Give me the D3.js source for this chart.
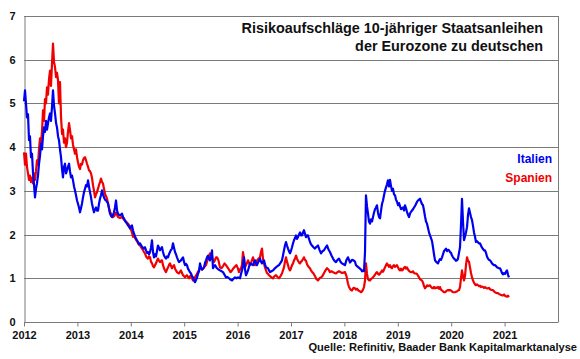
<!DOCTYPE html>
<html><head><meta charset="utf-8">
<script src="https://cdn.jsdelivr.net/npm/d3@7"></script>
<style>body{margin:0;background:#fff}svg{display:block}text{font-family:"Liberation Sans",Arial,sans-serif;font-weight:bold}</style>
</head><body><svg id="c" width="580" height="359"></svg>
<script>
const yTicks=[0,1,2,3,4,5,6,7];
const xTicks=[2012,2013,2014,2015,2016,2017,2018,2019,2020,2021];
const titleLines=["Risikoaufschläge 10-jähriger Staatsanleihen","der Eurozone zu deutschen"];
const seriesNames=["Italien","Spanien"];
const sourceText="Quelle: Refinitiv, Baader Bank Kapitalmarktanalyse";

const italien=[[2012.000,5.05],[2012.019,5.30],[2012.037,5.00],[2012.056,4.68],[2012.075,4.75],[2012.094,4.16],[2012.112,4.25],[2012.131,3.77],[2012.150,3.85],[2012.169,3.40],[2012.187,3.15],[2012.206,2.85],[2012.225,3.05],[2012.243,3.17],[2012.262,3.35],[2012.281,3.62],[2012.300,3.80],[2012.318,4.08],[2012.337,3.95],[2012.356,4.25],[2012.375,4.45],[2012.393,4.35],[2012.412,4.60],[2012.431,4.40],[2012.449,4.54],[2012.468,4.68],[2012.487,4.77],[2012.505,4.60],[2012.524,4.91],[2012.543,5.30],[2012.562,4.95],[2012.581,4.77],[2012.600,4.55],[2012.618,4.45],[2012.637,4.25],[2012.655,4.16],[2012.674,3.95],[2012.693,3.77],[2012.712,3.50],[2012.730,3.31],[2012.749,3.55],[2012.768,3.62],[2012.787,3.40],[2012.805,3.47],[2012.824,3.55],[2012.843,3.62],[2012.861,3.45],[2012.880,3.31],[2012.899,3.35],[2012.918,3.24],[2012.937,3.10],[2012.955,3.01],[2012.974,2.90],[2012.993,2.78],[2013.012,2.70],[2013.030,2.62],[2013.049,2.51],[2013.067,2.60],[2013.086,2.71],[2013.105,2.85],[2013.124,2.97],[2013.142,3.05],[2013.161,3.13],[2013.180,3.10],[2013.199,3.24],[2013.217,3.10],[2013.236,2.97],[2013.255,2.85],[2013.273,2.71],[2013.292,2.60],[2013.311,2.51],[2013.330,2.58],[2013.348,2.62],[2013.367,2.55],[2013.386,2.55],[2013.404,2.70],[2013.423,2.82],[2013.442,2.90],[2013.461,3.01],[2013.479,2.92],[2013.498,2.85],[2013.517,2.80],[2013.536,2.78],[2013.554,2.75],[2013.573,2.71],[2013.592,2.60],[2013.610,2.48],[2013.629,2.43],[2013.648,2.40],[2013.667,2.45],[2013.685,2.51],[2013.704,2.62],[2013.723,2.78],[2013.742,2.55],[2013.760,2.48],[2013.779,2.45],[2013.798,2.44],[2013.817,2.46],[2013.835,2.48],[2013.854,2.40],[2013.873,2.37],[2013.891,2.32],[2013.910,2.28],[2013.929,2.25],[2013.948,2.21],[2013.966,2.18],[2013.985,2.14],[2014.004,2.18],[2014.022,2.21],[2014.041,2.10],[2014.060,2.02],[2014.079,1.96],[2014.097,1.91],[2014.116,1.87],[2014.135,1.83],[2014.154,1.78],[2014.172,1.80],[2014.210,1.72],[2014.247,1.68],[2014.266,1.71],[2014.285,1.64],[2014.304,1.58],[2014.322,1.60],[2014.341,1.55],[2014.360,1.60],[2014.378,1.70],[2014.397,1.87],[2014.416,1.60],[2014.434,1.48],[2014.453,1.55],[2014.472,1.50],[2014.490,1.62],[2014.509,1.75],[2014.528,1.70],[2014.547,1.64],[2014.566,1.68],[2014.584,1.71],[2014.603,1.60],[2014.622,1.52],[2014.640,1.48],[2014.659,1.45],[2014.678,1.50],[2014.697,1.48],[2014.715,1.55],[2014.734,1.60],[2014.753,1.65],[2014.772,1.68],[2014.790,1.80],[2014.809,1.70],[2014.828,1.60],[2014.846,1.55],[2014.865,1.48],[2014.884,1.42],[2014.903,1.37],[2014.921,1.39],[2014.940,1.41],[2014.959,1.45],[2014.978,1.48],[2014.996,1.38],[2015.015,1.30],[2015.034,1.33],[2015.052,1.30],[2015.071,1.22],[2015.090,1.18],[2015.108,1.14],[2015.127,1.11],[2015.146,1.05],[2015.165,1.02],[2015.183,0.95],[2015.202,0.91],[2015.221,0.96],[2015.240,1.02],[2015.258,1.10],[2015.277,1.16],[2015.296,1.34],[2015.315,1.25],[2015.333,1.20],[2015.352,1.22],[2015.371,1.25],[2015.390,1.35],[2015.408,1.41],[2015.427,1.48],[2015.446,1.52],[2015.464,1.45],[2015.483,1.41],[2015.502,1.50],[2015.521,1.64],[2015.539,1.23],[2015.558,1.27],[2015.577,1.30],[2015.596,1.26],[2015.614,1.23],[2015.642,1.20],[2015.670,1.18],[2015.698,1.16],[2015.727,1.14],[2015.755,1.08],[2015.783,1.02],[2015.811,1.03],[2015.839,1.00],[2015.867,0.97],[2015.895,0.95],[2015.923,0.99],[2015.951,1.02],[2015.979,1.00],[2016.007,1.02],[2016.026,1.01],[2016.045,1.00],[2016.064,1.10],[2016.082,1.18],[2016.101,1.30],[2016.120,1.48],[2016.139,1.20],[2016.157,1.07],[2016.176,1.12],[2016.195,1.18],[2016.213,1.26],[2016.232,1.34],[2016.260,1.32],[2016.288,1.30],[2016.307,1.36],[2016.326,1.41],[2016.344,1.35],[2016.363,1.30],[2016.391,1.38],[2016.419,1.45],[2016.438,1.38],[2016.457,1.34],[2016.475,1.38],[2016.494,1.41],[2016.513,1.32],[2016.532,1.25],[2016.550,1.24],[2016.569,1.23],[2016.588,1.18],[2016.607,1.14],[2016.635,1.16],[2016.663,1.18],[2016.691,1.22],[2016.719,1.25],[2016.747,1.28],[2016.775,1.30],[2016.803,1.35],[2016.831,1.41],[2016.850,1.52],[2016.869,1.64],[2016.887,1.75],[2016.906,1.83],[2016.925,1.75],[2016.944,1.68],[2016.962,1.62],[2016.981,1.57],[2017.000,1.63],[2017.019,1.71],[2017.038,1.80],[2017.056,1.87],[2017.075,1.92],[2017.094,1.98],[2017.112,1.90],[2017.131,1.94],[2017.150,2.00],[2017.169,2.05],[2017.187,1.98],[2017.206,1.98],[2017.225,2.05],[2017.243,2.10],[2017.262,2.02],[2017.281,1.94],[2017.300,1.98],[2017.318,1.98],[2017.337,1.90],[2017.356,1.83],[2017.374,1.78],[2017.393,1.75],[2017.421,1.71],[2017.449,1.68],[2017.477,1.72],[2017.506,1.75],[2017.534,1.65],[2017.562,1.57],[2017.590,1.62],[2017.618,1.64],[2017.646,1.70],[2017.674,1.75],[2017.702,1.66],[2017.730,1.60],[2017.758,1.52],[2017.787,1.45],[2017.815,1.40],[2017.843,1.37],[2017.871,1.42],[2017.899,1.45],[2017.927,1.38],[2017.955,1.34],[2017.983,1.32],[2018.011,1.30],[2018.039,1.42],[2018.067,1.48],[2018.086,1.42],[2018.105,1.36],[2018.124,1.39],[2018.142,1.42],[2018.170,1.41],[2018.199,1.38],[2018.217,1.30],[2018.236,1.28],[2018.264,1.25],[2018.292,1.22],[2018.311,1.20],[2018.330,1.16],[2018.348,1.18],[2018.367,1.16],[2018.386,1.60],[2018.404,2.90],[2018.423,2.65],[2018.442,2.48],[2018.460,2.30],[2018.479,2.25],[2018.498,2.35],[2018.517,2.30],[2018.536,2.40],[2018.554,2.50],[2018.573,2.58],[2018.592,2.62],[2018.610,2.67],[2018.629,2.50],[2018.648,2.40],[2018.667,2.37],[2018.686,2.55],[2018.704,2.70],[2018.723,2.78],[2018.742,2.90],[2018.760,3.00],[2018.779,3.08],[2018.798,3.15],[2018.816,3.24],[2018.835,3.10],[2018.854,3.25],[2018.872,3.12],[2018.891,3.00],[2018.910,3.05],[2018.929,2.92],[2018.948,2.90],[2018.966,2.80],[2018.985,2.75],[2019.004,2.67],[2019.023,2.72],[2019.041,2.65],[2019.060,2.58],[2019.079,2.60],[2019.098,2.62],[2019.116,2.55],[2019.135,2.67],[2019.154,2.60],[2019.172,2.52],[2019.191,2.45],[2019.210,2.40],[2019.229,2.48],[2019.247,2.52],[2019.266,2.55],[2019.285,2.58],[2019.304,2.62],[2019.322,2.65],[2019.341,2.70],[2019.360,2.75],[2019.378,2.78],[2019.397,2.80],[2019.416,2.82],[2019.435,2.75],[2019.453,2.70],[2019.472,2.67],[2019.491,2.55],[2019.509,2.42],[2019.528,2.30],[2019.547,2.25],[2019.566,2.15],[2019.584,2.05],[2019.603,1.98],[2019.622,1.92],[2019.641,1.85],[2019.659,1.71],[2019.678,1.55],[2019.697,1.41],[2019.715,1.38],[2019.734,1.36],[2019.753,1.34],[2019.772,1.40],[2019.790,1.44],[2019.809,1.42],[2019.828,1.48],[2019.847,1.55],[2019.865,1.62],[2019.884,1.65],[2019.903,1.68],[2019.922,1.62],[2019.941,1.65],[2019.959,1.64],[2019.978,1.60],[2019.997,1.58],[2020.015,1.52],[2020.034,1.48],[2020.053,1.45],[2020.071,1.43],[2020.090,1.40],[2020.109,1.41],[2020.127,1.45],[2020.146,1.58],[2020.165,1.71],[2020.183,2.20],[2020.202,2.82],[2020.221,2.30],[2020.240,1.87],[2020.258,1.95],[2020.277,2.05],[2020.296,2.17],[2020.315,2.45],[2020.333,2.60],[2020.352,2.50],[2020.371,2.40],[2020.390,2.33],[2020.408,2.20],[2020.427,2.05],[2020.446,1.95],[2020.464,1.83],[2020.483,1.85],[2020.502,1.82],[2020.521,1.80],[2020.539,1.80],[2020.558,1.75],[2020.577,1.70],[2020.596,1.67],[2020.614,1.64],[2020.633,1.64],[2020.652,1.58],[2020.670,1.50],[2020.689,1.45],[2020.708,1.42],[2020.727,1.41],[2020.745,1.38],[2020.764,1.34],[2020.783,1.32],[2020.802,1.30],[2020.820,1.30],[2020.839,1.28],[2020.858,1.25],[2020.876,1.24],[2020.895,1.23],[2020.914,1.23],[2020.933,1.18],[2020.951,1.12],[2020.970,1.09],[2020.989,1.12],[2021.007,1.10],[2021.026,1.15],[2021.045,1.18],[2021.064,1.08],[2021.082,1.02]];

const spanien=[[2012.000,3.88],[2012.019,3.60],[2012.037,3.85],[2012.056,3.55],[2012.075,3.40],[2012.094,3.25],[2012.112,3.35],[2012.131,3.20],[2012.150,3.30],[2012.169,3.17],[2012.187,3.40],[2012.206,3.25],[2012.225,3.45],[2012.243,3.70],[2012.262,3.60],[2012.281,3.95],[2012.300,4.20],[2012.318,4.10],[2012.337,4.35],[2012.356,4.84],[2012.375,4.60],[2012.393,5.10],[2012.412,5.00],[2012.431,5.37],[2012.449,5.20],[2012.468,5.55],[2012.487,5.75],[2012.505,5.40],[2012.524,5.90],[2012.543,6.37],[2012.562,5.95],[2012.581,5.83],[2012.600,5.60],[2012.618,5.70],[2012.637,5.53],[2012.655,5.00],[2012.674,5.49],[2012.693,4.70],[2012.712,4.30],[2012.730,4.40],[2012.749,4.10],[2012.768,4.20],[2012.787,4.00],[2012.805,4.10],[2012.824,4.35],[2012.843,4.55],[2012.861,4.40],[2012.880,4.20],[2012.899,4.25],[2012.918,4.05],[2012.937,3.95],[2012.955,3.85],[2012.974,3.95],[2012.993,3.77],[2013.012,3.65],[2013.030,3.55],[2013.049,3.50],[2013.067,3.62],[2013.086,3.60],[2013.105,3.70],[2013.124,3.75],[2013.142,3.77],[2013.161,3.70],[2013.180,3.62],[2013.199,3.55],[2013.217,3.47],[2013.236,3.45],[2013.255,3.40],[2013.273,3.30],[2013.292,3.13],[2013.311,3.00],[2013.330,2.85],[2013.348,2.92],[2013.367,2.97],[2013.386,3.05],[2013.404,3.13],[2013.423,3.20],[2013.442,3.28],[2013.461,3.20],[2013.479,3.17],[2013.498,3.05],[2013.517,2.93],[2013.536,2.88],[2013.554,2.82],[2013.573,2.72],[2013.592,2.60],[2013.610,2.52],[2013.629,2.48],[2013.648,2.44],[2013.667,2.40],[2013.685,2.42],[2013.704,2.45],[2013.723,2.50],[2013.742,2.45],[2013.760,2.40],[2013.798,2.38],[2013.835,2.40],[2013.873,2.34],[2013.910,2.30],[2013.948,2.25],[2013.985,2.18],[2014.022,2.05],[2014.041,1.95],[2014.060,1.98],[2014.079,1.92],[2014.097,1.88],[2014.116,1.85],[2014.135,1.80],[2014.154,1.77],[2014.172,1.75],[2014.210,1.68],[2014.247,1.60],[2014.266,1.57],[2014.285,1.50],[2014.304,1.47],[2014.322,1.45],[2014.341,1.50],[2014.360,1.48],[2014.378,1.38],[2014.397,1.34],[2014.416,1.28],[2014.434,1.25],[2014.453,1.30],[2014.472,1.34],[2014.490,1.40],[2014.509,1.45],[2014.528,1.40],[2014.547,1.37],[2014.566,1.40],[2014.584,1.41],[2014.603,1.30],[2014.622,1.23],[2014.640,1.18],[2014.659,1.14],[2014.678,1.20],[2014.697,1.25],[2014.715,1.30],[2014.734,1.34],[2014.753,1.28],[2014.772,1.23],[2014.790,1.27],[2014.809,1.30],[2014.828,1.22],[2014.846,1.18],[2014.865,1.14],[2014.884,1.12],[2014.903,1.11],[2014.921,1.15],[2014.940,1.18],[2014.959,1.12],[2014.978,1.07],[2014.996,1.05],[2015.015,1.02],[2015.034,1.05],[2015.052,1.07],[2015.071,1.03],[2015.090,1.00],[2015.108,1.04],[2015.127,1.07],[2015.146,1.00],[2015.165,0.95],[2015.183,0.98],[2015.202,1.02],[2015.221,1.06],[2015.240,1.10],[2015.258,1.15],[2015.277,1.18],[2015.296,1.25],[2015.315,1.22],[2015.333,1.20],[2015.352,1.22],[2015.371,1.25],[2015.390,1.28],[2015.408,1.30],[2015.427,1.38],[2015.446,1.45],[2015.464,1.50],[2015.483,1.57],[2015.502,1.55],[2015.521,1.50],[2015.539,1.42],[2015.558,1.37],[2015.577,1.42],[2015.596,1.48],[2015.614,1.48],[2015.642,1.41],[2015.670,1.25],[2015.698,1.23],[2015.727,1.28],[2015.755,1.34],[2015.783,1.30],[2015.811,1.25],[2015.839,1.20],[2015.867,1.14],[2015.895,1.18],[2015.923,1.23],[2015.951,1.27],[2015.979,1.30],[2016.007,1.22],[2016.026,1.14],[2016.045,1.20],[2016.064,1.23],[2016.082,1.30],[2016.101,1.60],[2016.120,1.45],[2016.139,1.25],[2016.157,1.30],[2016.176,1.35],[2016.195,1.41],[2016.213,1.36],[2016.232,1.30],[2016.260,1.38],[2016.288,1.48],[2016.307,1.40],[2016.326,1.30],[2016.344,1.35],[2016.363,1.41],[2016.391,1.45],[2016.419,1.48],[2016.438,1.60],[2016.457,1.68],[2016.475,1.45],[2016.494,1.34],[2016.513,1.25],[2016.532,1.18],[2016.550,1.12],[2016.569,1.10],[2016.588,1.07],[2016.607,1.05],[2016.635,1.02],[2016.663,1.00],[2016.691,1.05],[2016.719,1.07],[2016.747,1.03],[2016.775,1.00],[2016.803,1.05],[2016.831,1.11],[2016.850,1.18],[2016.869,1.25],[2016.887,1.38],[2016.906,1.48],[2016.925,1.38],[2016.944,1.30],[2016.962,1.22],[2016.981,1.18],[2017.000,1.23],[2017.019,1.30],[2017.038,1.34],[2017.056,1.41],[2017.075,1.45],[2017.094,1.52],[2017.112,1.45],[2017.131,1.40],[2017.150,1.36],[2017.169,1.34],[2017.187,1.38],[2017.206,1.40],[2017.225,1.44],[2017.243,1.48],[2017.262,1.42],[2017.281,1.40],[2017.300,1.32],[2017.318,1.28],[2017.337,1.25],[2017.356,1.23],[2017.374,1.18],[2017.393,1.15],[2017.421,1.11],[2017.449,1.05],[2017.477,0.98],[2017.506,0.95],[2017.534,1.00],[2017.562,1.02],[2017.590,1.05],[2017.618,1.12],[2017.646,1.18],[2017.674,1.23],[2017.702,1.20],[2017.730,1.14],[2017.758,1.16],[2017.787,1.14],[2017.815,1.12],[2017.843,1.11],[2017.871,1.14],[2017.899,1.16],[2017.927,1.14],[2017.955,1.12],[2017.983,1.13],[2018.011,1.14],[2018.039,1.05],[2018.067,0.88],[2018.086,0.80],[2018.105,0.76],[2018.124,0.73],[2018.142,0.72],[2018.170,0.78],[2018.199,0.77],[2018.217,0.74],[2018.236,0.76],[2018.264,0.72],[2018.292,0.70],[2018.311,0.68],[2018.330,0.70],[2018.348,0.74],[2018.367,0.80],[2018.386,0.95],[2018.404,1.34],[2018.423,1.10],[2018.442,0.98],[2018.460,0.95],[2018.479,0.95],[2018.498,0.98],[2018.517,1.00],[2018.536,1.02],[2018.554,1.05],[2018.573,1.08],[2018.592,1.12],[2018.610,1.14],[2018.629,1.10],[2018.648,1.08],[2018.667,1.11],[2018.686,1.14],[2018.704,1.18],[2018.723,1.15],[2018.742,1.20],[2018.760,1.25],[2018.779,1.30],[2018.798,1.34],[2018.816,1.30],[2018.835,1.26],[2018.854,1.30],[2018.872,1.25],[2018.891,1.23],[2018.910,1.28],[2018.929,1.30],[2018.948,1.26],[2018.966,1.28],[2018.985,1.30],[2019.004,1.25],[2019.023,1.20],[2019.041,1.18],[2019.060,1.22],[2019.079,1.18],[2019.098,1.20],[2019.116,1.24],[2019.135,1.26],[2019.154,1.22],[2019.172,1.25],[2019.191,1.20],[2019.210,1.17],[2019.229,1.15],[2019.247,1.14],[2019.266,1.14],[2019.285,1.16],[2019.304,1.12],[2019.322,1.11],[2019.341,1.11],[2019.360,1.10],[2019.378,1.06],[2019.397,1.02],[2019.416,0.98],[2019.435,0.96],[2019.453,0.95],[2019.472,0.90],[2019.491,0.82],[2019.509,0.77],[2019.528,0.80],[2019.547,0.84],[2019.566,0.82],[2019.584,0.83],[2019.603,0.84],[2019.622,0.80],[2019.641,0.78],[2019.659,0.77],[2019.678,0.80],[2019.697,0.77],[2019.715,0.79],[2019.734,0.78],[2019.753,0.80],[2019.772,0.76],[2019.790,0.80],[2019.809,0.74],[2019.828,0.72],[2019.847,0.70],[2019.865,0.68],[2019.884,0.68],[2019.903,0.70],[2019.922,0.72],[2019.941,0.73],[2019.959,0.72],[2019.978,0.73],[2019.997,0.72],[2020.015,0.70],[2020.034,0.68],[2020.053,0.68],[2020.071,0.68],[2020.090,0.69],[2020.109,0.70],[2020.127,0.72],[2020.146,0.73],[2020.165,0.80],[2020.183,1.00],[2020.202,1.18],[2020.221,1.05],[2020.240,0.95],[2020.258,1.05],[2020.277,1.30],[2020.296,1.48],[2020.315,1.40],[2020.333,1.38],[2020.352,1.25],[2020.371,1.12],[2020.390,1.02],[2020.408,0.95],[2020.427,0.90],[2020.446,0.86],[2020.464,0.84],[2020.483,0.86],[2020.502,0.84],[2020.521,0.82],[2020.539,0.83],[2020.558,0.80],[2020.577,0.81],[2020.596,0.80],[2020.614,0.78],[2020.633,0.80],[2020.652,0.78],[2020.670,0.77],[2020.689,0.77],[2020.708,0.78],[2020.727,0.75],[2020.745,0.74],[2020.764,0.73],[2020.783,0.73],[2020.802,0.70],[2020.820,0.68],[2020.839,0.67],[2020.858,0.66],[2020.876,0.66],[2020.895,0.64],[2020.914,0.63],[2020.933,0.62],[2020.951,0.61],[2020.970,0.61],[2020.989,0.63],[2021.007,0.60],[2021.026,0.59],[2021.045,0.58],[2021.064,0.60],[2021.082,0.57]];

const colors={Italien:"#0000f0",Spanien:"#f00000"};
const plot={left:24,right:558,top:16,bottom:322};
const svg=d3.select("#c");
const x=d3.scaleLinear().domain([2012,2022]).range([plot.left,plot.right]);
const y=d3.scaleLinear().domain([0,7]).range([plot.bottom,plot.top]);
const grey="#7a7a7a";

// gridlines
svg.append("g").selectAll("line").data(yTicks.filter(v=>v>0)).join("line")
  .attr("x1",plot.left).attr("x2",plot.right)
  .attr("y1",d=>Math.round(y(d))+0.5).attr("y2",d=>Math.round(y(d))+0.5)
  .attr("stroke",grey).attr("stroke-width",1);
// right border
svg.append("line").attr("x1",plot.right+0.5).attr("x2",plot.right+0.5).attr("y1",plot.top).attr("y2",plot.bottom)
  .attr("stroke",grey);

// x axis
const xAxis=d3.axisBottom(x).tickValues(xTicks).tickFormat(d3.format("d")).tickSize(4).tickPadding(5);
const gx=svg.append("g").attr("transform",`translate(0,${plot.bottom+0.5})`).call(xAxis);
gx.select(".domain").attr("stroke",grey).attr("d",`M${plot.left},0H${plot.right+0.5}`);
gx.selectAll(".tick line").attr("stroke",grey);
gx.selectAll(".tick text").attr("font-size",11).attr("font-family","Liberation Sans, Arial, sans-serif").attr("font-weight","bold").attr("fill","#111");

// y axis
const yAxis=d3.axisLeft(y).tickValues(yTicks).tickFormat(d3.format("d")).tickSize(0).tickPadding(9);
const gy=svg.append("g").attr("transform",`translate(${plot.left+0.5},0)`).call(yAxis);
gy.select(".domain").attr("stroke",grey);
gy.selectAll(".tick text").attr("font-size",11).attr("font-family","Liberation Sans, Arial, sans-serif").attr("font-weight","bold").attr("fill","#111");

// title
svg.append("g").selectAll("text").data(titleLines).join("text")
  .attr("x",543).attr("y",(d,i)=>33+i*18).attr("text-anchor","end")
  .attr("font-size",14.4).attr("fill","#111").text(d=>d);

// lines
const line=d3.line().x(d=>x(d[0])).y(d=>y(d[1]));
const series=[{name:"Spanien",data:spanien},{name:"Italien",data:italien}];
svg.append("g").selectAll("path").data(series).join("path")
  .attr("d",d=>line(d.data)).attr("fill","none")
  .attr("stroke",d=>colors[d.name]).attr("stroke-width",2.2).attr("stroke-linejoin","round");

// legend labels
svg.append("g").selectAll("text").data(seriesNames).join("text")
  .attr("x",552).attr("y",(d,i)=>163+i*19).attr("text-anchor","end")
  .attr("font-size",12).attr("fill",d=>colors[d]).text(d=>d);

// source
svg.append("text").attr("x",577).attr("y",351).attr("text-anchor","end")
  .attr("font-size",11.1).attr("fill","#111").text(sourceText);
</script></body></html>
